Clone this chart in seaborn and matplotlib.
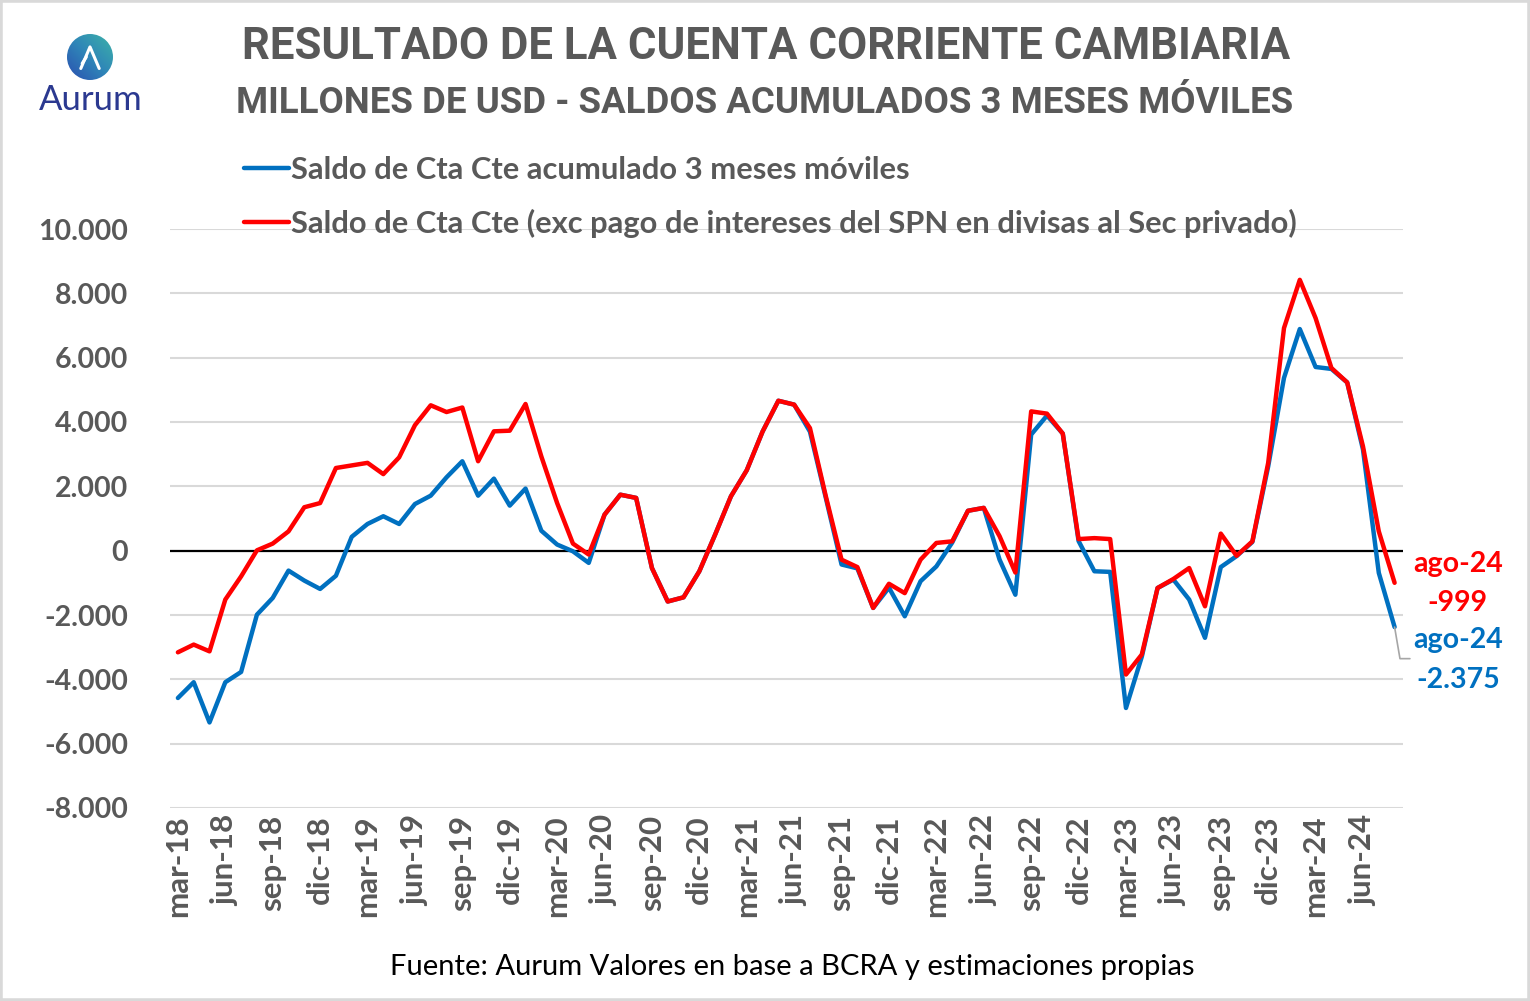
import numpy as np
import pandas as pd
import matplotlib
matplotlib.use("Agg")
import matplotlib.pyplot as plt
import seaborn as sns
from matplotlib.patches import Circle, Rectangle
from matplotlib.lines import Line2D
from matplotlib.colors import LinearSegmentedColormap

# ---------------- data ----------------
mes_abrev = ['ene', 'feb', 'mar', 'abr', 'may', 'jun', 'jul', 'ago', 'sep', 'oct', 'nov', 'dic']
fechas = []
for anio in range(18, 25):
    for m in range(12):
        if anio == 18 and m < 2:
            continue
        if anio == 24 and m > 7:
            continue
        fechas.append(f"{mes_abrev[m]}-{anio}")

saldo_cta_cte = [
    -4580, -4090, -5340, -4090, -3770, -1990, -1470, -620, -930, -1190,
    -780, 430, 830, 1070, 830, 1450, 1710, 2280, 2780, 1710,
    2240, 1400, 1930, 620, 190, -20, -380, 1120, 1740, 1640,
    -540, -1580, -1450, -640, 500, 1690, 2500, 3700, 4660, 4540,
    3700, 1650, -430, -550, -1780, -1150, -2040, -950, -490, 250,
    1240, 1330, -280, -1370, 3610, 4200, 3640, 300, -640, -660,
    -4890, -3300, -1160, -900, -1520, -2710, -510, -170, 270, 2620,
    5370, 6890, 5710, 5650, 5230, 3140, -690, -2375,
]
saldo_exc_intereses = [
    -3160, -2920, -3130, -1520, -800, 10, 220, 600, 1350, 1480,
    2570, 2650, 2730, 2380, 2900, 3900, 4520, 4310, 4450, 2780,
    3710, 3730, 4560, 2930, 1480, 220, -120, 1120, 1740, 1640,
    -540, -1580, -1450, -640, 500, 1690, 2500, 3700, 4660, 4540,
    3810, 1700, -280, -510, -1780, -1030, -1320, -280, 240, 290,
    1240, 1330, 450, -680, 4330, 4260, 3640, 360, 390, 360,
    -3850, -3230, -1160, -880, -540, -1730, 530, -160, 290, 2730,
    6920, 8420, 7230, 5680, 5230, 3240, 600, -999,
]

serie_azul = "Saldo de Cta Cte acumulado 3 meses móviles"
serie_roja = "Saldo de Cta Cte (exc pago de intereses del SPN en divisas al Sec privado)"
y_ticks = list(range(-8000, 10001, 2000))

df = pd.concat([
    pd.DataFrame({"idx": range(len(fechas)), "fecha": fechas, "valor": saldo_cta_cte, "serie": serie_azul}),
    pd.DataFrame({"idx": range(len(fechas)), "fecha": fechas, "valor": saldo_exc_intereses, "serie": serie_roja}),
])

AZUL = "#0070C0"
ROJO = "#FF0000"
GRIS = "#595959"

sns.set_theme(style="white")
plt.rcParams['font.family'] = ['Lato', 'DejaVu Sans']

W, H = 1530, 1001
fig = plt.figure(figsize=(W / 100, H / 100), dpi=100)
fig.patch.set_facecolor("white")

ax = fig.add_axes([170 / W, 1 - 808 / H, (1402.5 - 170) / W, (808 - 229) / H])
sns.lineplot(data=df, x="idx", y="valor", hue="serie", hue_order=[serie_azul, serie_roja],
             palette={serie_azul: AZUL, serie_roja: ROJO}, linewidth=3.2, ax=ax,
             legend=True, sort=False)

ax.set_xlim(-0.5, len(fechas) - 0.5)
ax.set_ylim(-8000, 10000)
ax.set_yticks(y_ticks)
ax.set_yticklabels([f"{v:,}".replace(",", ".") for v in y_ticks], fontsize=20.5, fontweight="bold", color=GRIS)
pos = list(range(0, len(fechas), 3))
ax.set_xticks(pos)
ax.set_xticklabels([fechas[i] for i in pos], rotation=90, fontsize=22.5, fontweight="bold", color=GRIS)
ax.tick_params(axis="y", length=0, pad=30)
ax.tick_params(axis="x", length=0, pad=5)
ax.set_xlabel("")
ax.set_ylabel("")
for s in ax.spines.values():
    s.set_visible(False)
ax.grid(axis="y", color="#d9d9d9", linewidth=1.5)
ax.grid(axis="x", visible=False)
ax.set_axisbelow(True)
ax.axhline(0, color="black", linewidth=1.6, zorder=1.5)

# legend
handles, labels = ax.get_legend_handles_labels()
for h in handles:
    h.set_linewidth(3.2)
leg = ax.legend(handles, labels, loc="center left", bbox_to_anchor=(232 / W, 1 - 197 / H),
                bbox_transform=fig.transFigure, frameon=False, fontsize=22.2,
                handlelength=1.45, handletextpad=0.05, labelspacing=0.8, borderaxespad=0)
for t in leg.get_texts():
    t.set_color(GRIS)
    t.set_fontweight("bold")

# end labels
n = len(fechas) - 1
ax.text(81.0, -1026, f"{fechas[n]}\n{saldo_exc_intereses[n]:,}".replace(",", "."), color=ROJO,
        fontsize=20.5, fontweight="bold", ha="center", va="center", linespacing=1.65, clip_on=False)
ax.text(81.0, -3390, f"{fechas[n]}\n{saldo_cta_cte[n]:,}".replace(",", "."), color=AZUL,
        fontsize=20.5, fontweight="bold", ha="center", va="center", linespacing=1.65, clip_on=False)
ax.add_line(Line2D([n, n + 0.34, n + 0.97], [saldo_cta_cte[n], -3357, -3357], color="#a6a6a6",
                   linewidth=1.2, clip_on=False))

# titles
fig.text(766 / W, 1 - 47 / H, "RESULTADO DE LA CUENTA CORRIENTE CAMBIARIA", ha="center", va="center",
         fontsize=31.5, fontweight="bold", color=GRIS, family=['Roboto', 'DejaVu Sans'])
fig.text(765 / W, 1 - 103 / H, "MILLONES DE USD - SALDOS ACUMULADOS 3 MESES MÓVILES", ha="center", va="center",
         fontsize=26.4, fontweight="bold", color=GRIS, family=['Roboto', 'DejaVu Sans'])
fig.text(792 / W, 1 - 967 / H, "Fuente: Aurum Valores en base a BCRA y estimaciones propias", ha="center",
         va="center", fontsize=21, color="black")

# logo
lax = fig.add_axes([67 / W, 1 - 80 / H, 46 / W, 46 / H])
lax.set_xlim(0, 1)
lax.set_ylim(0, 1)
lax.axis("off")
gx, gy = np.meshgrid(np.linspace(0, 1, 100), np.linspace(0, 1, 100))
grad = (gx + gy) / 2
cmap = LinearSegmentedColormap.from_list("aurum", ["#2b4fb0", "#2f86b8", "#3db3a8"])
im = lax.imshow(grad, extent=(0, 1, 0, 1), origin="lower", cmap=cmap, aspect="auto")
circ = Circle((0.5, 0.5), 0.5, transform=lax.transData)
im.set_clip_path(circ)
lax.plot([0.3, 0.5, 0.7], [0.25, 0.72, 0.25], color="white", lw=2.2, solid_capstyle="round",
         solid_joinstyle="round")
lax.plot([0.42, 0.33], [0.5, 0.36], color="white", lw=2.2, solid_capstyle="round")
fig.text(91 / W, 1 - 100 / H, "Aurum", ha="center", va="center", fontsize=25, color="#2b3990")

# frame
fig.patches.append(Rectangle((0, 0), 1, 1, transform=fig.transFigure, fill=False,
                             edgecolor="#d9d9d9", linewidth=4))

fig.savefig("out.png", dpi=100, facecolor="white")
